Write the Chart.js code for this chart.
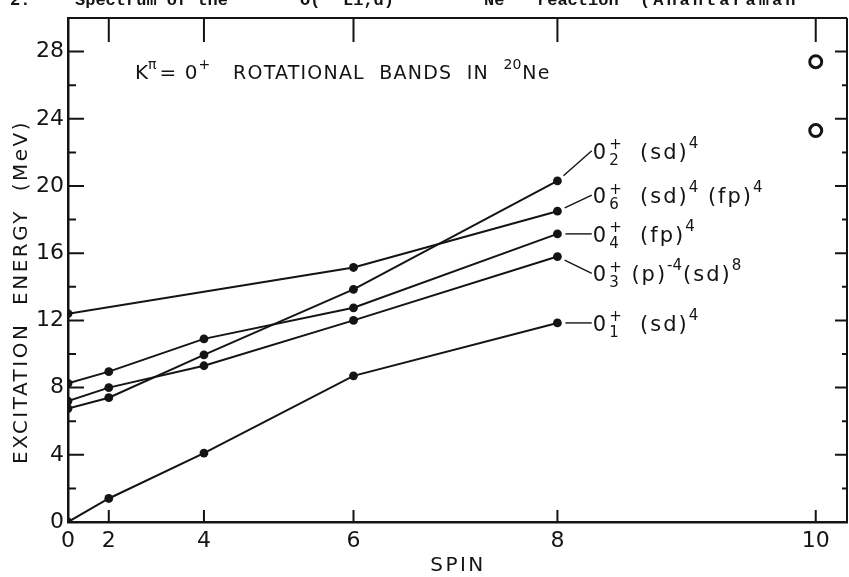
<!DOCTYPE html>
<html>
<head>
<meta charset="utf-8">
<script src="https://cdn.jsdelivr.net/npm/chart.js@4/dist/chart.umd.min.js"></script>
<style>
  html, body { margin: 0; padding: 0; background: #fff; overflow: hidden; }
  #wrap { position: relative; width: 856px; height: 577px; }
</style>
</head>
<body>
<div id="wrap"><canvas id="c" width="856" height="577"></canvas></div>
<script>
// Spin values of the band members and their excitation energies (MeV)
const spins = [0, 2, 4, 6, 8];
const band01 = [0, 1.4, 4.1, 8.7, 11.85];       // 0+_1 (sd)^4
const band02 = [6.75, 7.4, 9.95, 13.85, 20.3];  // 0+_2 (sd)^4
const band03 = [7.2, 8.0, 9.3, 12.0, 15.8];     // 0+_3 (p)^-4 (sd)^8
const band04 = [8.25, 8.95, 10.9, 12.75, 17.15]; // 0+_4 (fp)^4
const band06Spins = [0, 6, 8];
const band06 = [12.4, 15.15, 18.5];             // 0+_6 (sd)^4 (fp)^4
const openSpins = [10, 10];
const openEnergies = [27.4, 23.3];

// Axis ticks
const spinTicks = [0, 2, 4, 6, 8, 10];
const energyTicks = [0, 4, 8, 12, 16, 20, 24, 28];
const energyMinorTicks = [2, 6, 10, 14, 18, 22, 26];

// The spin axis is linear in J(J+1)
const jj = J => J * (J + 1);
const pts = (js, es) => js.map((J, i) => ({ x: jj(J), y: es[i] }));

const FONT = '"DejaVu Sans", "Liberation Sans", sans-serif';
const INK = '#141414';

// Band labels: parts are [text, kind]; kind 'n' normal, 'sup', 'ss' = [sub, sup] stacked
const bandLabels = [
  { ds: 1, y: 22.1,  parts: [['0','n'], [['2','+'],'ss'], ['  (sd)','n'], ['4','sup']] },
  { ds: 4, y: 19.45, parts: [['0','n'], [['6','+'],'ss'], ['  (sd)','n'], ['4','sup'], [' (fp)','n'], ['4','sup']] },
  { ds: 3, y: 17.15, parts: [['0','n'], [['4','+'],'ss'], ['  (fp)','n'], ['4','sup']] },
  { ds: 2, y: 14.8,  parts: [['0','n'], [['3','+'],'ss'], [' (p)','n'], ['-4','sup'], ['(sd)','n'], ['8','sup']] },
  { ds: 0, y: 11.85, parts: [['0','n'], [['1','+'],'ss'], ['  (sd)','n'], ['4','sup']] }
];
const labelX = 77.2; // in J(J+1) units

function setFont(ctx, size) { ctx.font = size + 'px ' + FONT; }

function drawRich(ctx, x, yBase, parts, size, spacing) {
  const sub = Math.round(size * 0.7);
  const sup = Math.round(size * 0.72);
  ctx.textBaseline = 'alphabetic';
  ctx.textAlign = 'left';
  for (const [t, kind] of parts) {
    if (kind === 'n') {
      setFont(ctx, size); ctx.letterSpacing = spacing + 'px';
      ctx.fillText(t, x, yBase);
      x += ctx.measureText(t).width;
    } else if (kind === 'sup') {
      setFont(ctx, sup); ctx.letterSpacing = '0px';
      ctx.fillText(t, x, yBase - size * 0.52);
      x += ctx.measureText(t).width + 1;
    } else if (kind === 'ss') {
      setFont(ctx, sub); ctx.letterSpacing = '0px';
      const w1 = ctx.measureText(t[0]).width;
      ctx.fillText(t[0], x + 1, yBase + size * 0.28);
      const w2 = ctx.measureText(t[1]).width;
      ctx.fillText(t[1], x + 1, yBase - size * 0.45);
      x += Math.max(w1, w2) + 2;
    }
  }
  ctx.letterSpacing = '0px';
  return x;
}

const framePlugin = {
  id: 'frame',
  afterDraw(chart) {
    const { ctx, chartArea: ca, scales: { x: xs, y: ys } } = chart;
    ctx.save();
    ctx.strokeStyle = INK;
    ctx.fillStyle = INK;
    ctx.lineCap = 'butt';
    // top and right border
    ctx.lineWidth = 2;
    ctx.beginPath();
    ctx.moveTo(ca.left, ca.top); ctx.lineTo(ca.right, ca.top);
    ctx.moveTo(ca.right, ca.top); ctx.lineTo(ca.right, ca.bottom);
    ctx.stroke();
    // inward ticks on the energy axes
    ctx.lineWidth = 2;
    ctx.beginPath();
    for (const v of energyTicks) {
      const y = ys.getPixelForValue(v);
      if (v > 0) { ctx.moveTo(ca.left, y); ctx.lineTo(ca.left + 16, y); }
      ctx.moveTo(ca.right, y); ctx.lineTo(ca.right - 12, y);
    }
    for (const v of energyMinorTicks) {
      const y = ys.getPixelForValue(v);
      ctx.moveTo(ca.left, y); ctx.lineTo(ca.left + 8, y);
      ctx.moveTo(ca.right, y); ctx.lineTo(ca.right - 5, y);
    }
    // inward ticks on the spin axes
    for (const J of spinTicks) {
      if (J === 0) continue;
      const x = xs.getPixelForValue(jj(J));
      ctx.moveTo(x, ca.bottom); ctx.lineTo(x, ca.bottom - 12);
      ctx.moveTo(x, ca.top); ctx.lineTo(x, ca.top + 24);
    }
    ctx.stroke();

    // leader lines and band labels
    ctx.lineWidth = 1.4;
    for (const lab of bandLabels) {
      const meta = chart.getDatasetMeta(lab.ds);
      const last = meta.data[meta.data.length - 1];
      const lx = xs.getPixelForValue(labelX);
      const ly = ys.getPixelForValue(lab.y);
      const dx = lx - 1 - last.x, dy = ly - last.y;
      const d = Math.hypot(dx, dy);
      ctx.beginPath();
      ctx.moveTo(last.x + dx / d * 8, last.y + dy / d * 8);
      ctx.lineTo(lx - 1, ly);
      ctx.stroke();
      drawRich(ctx, lx, ly + 8, lab.parts, 21, 2);
    }

    // heading inside the frame
    let tx = 135, tb = 79;
    tx = drawRich(ctx, tx, tb, [['K','n'], ['π','sup']], 20, 0);
    tx = drawRich(ctx, tx + 2, tb, [['= 0','n'], ['+','sup']], 20, 1);
    tx = drawRich(ctx, tx + 22, tb, [['ROTATIONAL  BANDS  IN  ','n'], ['20','sup'], ['Ne','n']], 19, 1.2);

    // axis titles
    setFont(ctx, 20);
    ctx.letterSpacing = '2.5px';
    ctx.textAlign = 'center';
    ctx.textBaseline = 'middle';
    ctx.fillText('SPIN', 458, 566);
    ctx.save();
    ctx.translate(22, 292);
    ctx.rotate(-Math.PI / 2);
    ctx.fillText('EXCITATION  ENERGY  (MeV)', 0, 0);
    ctx.restore();
    ctx.letterSpacing = '0px';

    // running caption line above the frame (cut by the page edge)
    const cap = 'bold 17px "Liberation Mono", monospace';
    const capSup = 'bold 11px "Liberation Mono", monospace';
    ctx.textAlign = 'left';
    ctx.textBaseline = 'alphabetic';
    ctx.font = cap;
    ctx.fillText('2.', 10, 5);
    ctx.fillText('Spectrum of the', 75, 5);
    ctx.fillText('O(', 300, 5);
    ctx.fillText('Li,d)', 343, 5);
    ctx.fillText('Ne', 484, 5);
    ctx.fillText('reaction', 537, 5);
    ctx.letterSpacing = '3px';
    ctx.fillText('(Anantaraman', 640, 5);
    ctx.letterSpacing = '0px';
    ctx.font = capSup;
    ctx.fillText('16', 282, -3);
    ctx.fillText('6', 332, -3);
    ctx.fillText('20', 466, -3);
    ctx.restore();
  }
};

const lineDs = (data) => ({
  data, showLine: true, borderColor: INK, backgroundColor: INK, borderWidth: 2,
  pointRadius: 4.4, pointHoverRadius: 4.4, pointBackgroundColor: INK, pointBorderWidth: 0,
  tension: 0
});

new Chart(document.getElementById('c'), {
  type: 'scatter',
  data: {
    datasets: [
      lineDs(pts(spins, band01)),
      lineDs(pts(spins, band02)),
      lineDs(pts(spins, band03)),
      lineDs(pts(spins, band04)),
      lineDs(pts(band06Spins, band06)),
      {
        data: pts(openSpins, openEnergies), showLine: false,
        pointRadius: 6, pointBorderWidth: 3, pointBorderColor: INK,
        pointBackgroundColor: '#fff'
      }
    ]
  },
  options: {
    responsive: false,
    animation: false,
    events: [],
    layout: { padding: { top: 18, right: 5, left: 0, bottom: 0 } },
    plugins: { legend: { display: false }, tooltip: { enabled: false } },
    scales: {
      x: {
        type: 'linear', min: 0, max: 114.6,
        afterBuildTicks: s => { s.ticks = spinTicks.map(J => ({ value: jj(J) })); },
        afterFit: s => { s.height = 55; },
        ticks: {
          color: INK, font: { family: FONT, size: 22 }, padding: 6, maxRotation: 0,
          callback: v => { const J = spinTicks.find(j => jj(j) === v); return J === undefined ? '' : String(J); }
        },
        grid: { display: false, drawTicks: false },
        border: { display: true, color: INK, width: 2.5 }
      },
      y: {
        type: 'linear', min: 0, max: 30,
        afterBuildTicks: s => { s.ticks = energyTicks.map(v => ({ value: v })); },
        afterFit: s => { s.width = 68; },
        ticks: { color: INK, font: { family: FONT, size: 22 }, padding: 4 },
        grid: { display: false, drawTicks: false },
        border: { display: true, color: INK, width: 2.5 }
      }
    }
  },
  plugins: [framePlugin]
});
</script>
</body>
</html>
